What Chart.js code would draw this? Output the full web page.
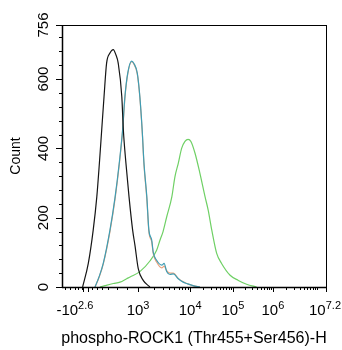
<!DOCTYPE html>
<html>
<head>
<meta charset="utf-8">
<script src="https://cdn.jsdelivr.net/npm/chart.js@4.4.1/dist/chart.umd.min.js"></script>
<style>
  html, body { margin: 0; padding: 0; background: #fff; }
  #box { width: 342px; height: 350px; }
</style>
</head>
<body>
<div id="box"><canvas id="myChart"></canvas></div>
<script>
const blackX = [80,102,121,135,145,154,163,173,186,199,209,218,232,238,248,260,274,283,296,315,341];
const blackY = [0,68,164,260,357,453,549,646,675,685,670,646,549,453,357,260,164,120,52,19,0];

const orangeX = [128,144,160,186,206,222,235,244,255,270,279,292,302,311,318,329,337,348,354,367,387,396,406,419,432,451,470,484,508,535];
const orangeY = [0,28,66,160,255,352,450,545,615,650,643,615,547,450,352,255,160,130,96,72,55,60,47,40,40,25,15,10,4,0];

const tealX = [128,144,160,186,206,222,235,244,255,270,279,292,302,311,318,329,337,348,354,367,387,396,406,419,432,451,470,484,508,535];
const tealY = [0,30,68,164,260,357,453,549,617,652,645,617,549,453,357,260,164,135,100,77,63,68,45,36,38,24,14,10,4,0];

const greenX = [147,167,199,225,251,264,303,341,367,380,392,406,426,438,451,464,477,489,500,516,535,555,567,581,600,619,652,684,716,755];
const greenY = [0,4,10,14,24,29,45,75,106,135,160,202,260,318,357,400,420,426,420,386,328,260,222,164,97,68,34,19,8,0];

// graduations de l'axe x (biexponentiel)
const xTickCh = [50, 295, 497, 663, 818, 1024];
const xTickBase = ['-10', '10', '10', '10', '10', '10'];
const xTickExp = ['2.6', '3', '4', '5', '6', '7.2'];
const decadeCh = [295, 497, 663, 818, 1024]; // 10^3 .. 10^7.2
const decadeExp = [3, 4, 5, 6, 7.2];
const lowTickCh = [12, 31, 50, 63, 76, 83, 102, 115, 134, 154, 180, 213, 252];
const lowMajorCh = [83, 102];

// graduations de l'axe y
const yMax = 756;
const yLabels = [0, 200, 400, 600, 756];

function pts(xs, ys) {
  return xs.map((x, i) => ({x: x, y: ys[i]}));
}

function serie(xs, ys, couleur) {
  return {
    data: pts(xs, ys),
    borderColor: couleur,
    borderWidth: 1.2,
    pointRadius: 0,
    fill: false,
    cubicInterpolationMode: 'monotone'
  };
}

const data = {
  datasets: [
    serie(blackX, blackY, '#151515'),
    serie(tealX, tealY, '#3f9db4'),
    serie(orangeX, orangeY, '#e9a27c'),
    serie(greenX, greenY, '#6fd065')
  ]
};

// minor ticks log entre les decades
function minorTicks() {
  const out = [];
  for (let i = 0; i < decadeCh.length - 1; i++) {
    const w = (decadeCh[i + 1] - decadeCh[i]) / (decadeExp[i + 1] - decadeExp[i]);
    for (let k = 2; k <= 10; k++) {
      const c = decadeCh[i] + Math.log10(k) * w;
      if (c < decadeCh[i + 1] - 1) out.push(c);
    }
  }
  return out.concat(lowTickCh);
}

const Axes = {
  id: 'Axes',
  afterDraw(chart) {
    const {ctx, chartArea: {top, bottom, left, right}, scales: {x, y}} = chart;
    ctx.save();
    ctx.strokeStyle = '#000';
    ctx.fillStyle = '#000';
    ctx.lineWidth = 1;
    // cadre
    ctx.strokeRect(Math.round(left) + 0.5, Math.round(top) + 0.5, Math.round(right - left), Math.round(bottom - top));
    ctx.lineWidth = 1.5;
    ctx.beginPath();
    ctx.moveTo(left, bottom + 0.5); ctx.lineTo(right, bottom + 0.5);
    ctx.moveTo(left + 0.5, top); ctx.lineTo(left + 0.5, bottom);
    ctx.stroke();

    // ticks x
    ctx.lineWidth = 1;
    ctx.beginPath();
    minorTicks().forEach(c => {
      const px = Math.round(x.getPixelForValue(c)) + 0.5;
      ctx.moveTo(px, bottom); ctx.lineTo(px, bottom + 3);
    });
    decadeCh.concat(lowMajorCh).forEach(c => {
      const px = Math.round(x.getPixelForValue(c)) + 0.5;
      ctx.moveTo(px, bottom); ctx.lineTo(px, bottom + 5);
    });
    // ticks y
    for (let v = 0; v < yMax; v += 40) {
      const py = Math.round(y.getPixelForValue(v)) + 0.5;
      const len = v % 200 === 0 ? 6 : 3;
      ctx.moveTo(left, py); ctx.lineTo(left - len, py);
    }
    const pyTop = Math.round(y.getPixelForValue(yMax)) + 0.5;
    ctx.moveTo(left, pyTop); ctx.lineTo(left - 6, pyTop);
    ctx.stroke();

    // labels x avec exposant
    const fBase = '15px "Liberation Sans", Arial, sans-serif';
    const fExp = '11px "Liberation Sans", Arial, sans-serif';
    ctx.textBaseline = 'alphabetic';
    ctx.textAlign = 'left';
    xTickCh.forEach((c, i) => {
      ctx.font = fBase;
      const wb = ctx.measureText(xTickBase[i]).width;
      ctx.font = fExp;
      const we = ctx.measureText(xTickExp[i]).width;
      let x0 = x.getPixelForValue(c) - (wb + we) / 2;
      if (x0 + wb + we > chart.width - 1) x0 = chart.width - 1 - wb - we;
      ctx.font = fBase;
      ctx.fillText(xTickBase[i], x0, bottom + 28);
      ctx.font = fExp;
      ctx.fillText(xTickExp[i], x0 + wb, bottom + 22);
    });

    // labels y tournes
    ctx.font = fBase;
    ctx.textAlign = 'center';
    ctx.textBaseline = 'middle';
    yLabels.forEach(v => {
      ctx.save();
      ctx.translate(left - 18, y.getPixelForValue(v));
      ctx.rotate(-Math.PI / 2);
      ctx.fillText(String(v), 0, 0);
      ctx.restore();
    });

    // titres
    ctx.font = '14px "Liberation Sans", Arial, sans-serif';
    ctx.save();
    ctx.translate(16, (top + bottom) / 2);
    ctx.rotate(-Math.PI / 2);
    ctx.fillText('Count', 0, 0);
    ctx.restore();

    ctx.font = '16px "Liberation Sans", Arial, sans-serif';
    ctx.textBaseline = 'alphabetic';
    ctx.fillText('phospho-ROCK1 (Thr455+Ser456)-H', (left + right) / 2, bottom + 56);
    ctx.restore();
  }
};

const config = {
  type: 'line',
  data,
  options: {
    responsive: true,
    maintainAspectRatio: false,
    animation: false,
    layout: {
      padding: {left: 62, right: 16, top: 25, bottom: 63}
    },
    scales: {
      x: {type: 'linear', min: 0, max: 1024, display: false},
      y: {type: 'linear', min: 0, max: yMax, display: false}
    },
    plugins: {
      legend: {display: false},
      tooltip: {enabled: false}
    }
  },
  plugins: [Axes]
};

const myChart = new Chart(document.getElementById('myChart'), config);
</script>
</body>
</html>
